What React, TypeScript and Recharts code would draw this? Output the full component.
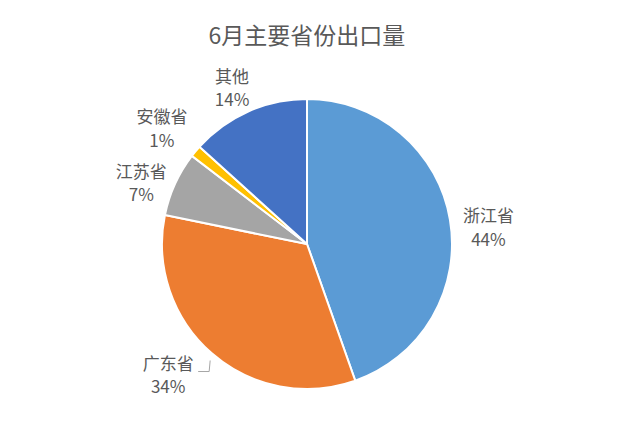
import React from 'react';
import { PieChart, Pie, Cell } from 'recharts';

const provinces = ['浙江省', '广东省', '江苏省', '安徽省', '其他'];
const shares = [44.6, 33.6, 7.2, 1.3, 13.3];
const percentLabels = ['44%', '34%', '7%', '1%', '14%'];
const colors = ['#5B9BD5', '#ED7D31', '#A5A5A5', '#FFC000', '#4472C4'];
const title = '6月主要省份出口量';

const data = provinces.map((name, i) => ({ name, value: shares[i], pct: percentLabels[i] }));

// small per-label nudges (pixels) from the radial position, mimicking best-fit placement
const labelNudges: [number, number][] = [
  [3, 15],
  [-20, -5],
  [-1, 15],
  [-6, 1],
  [-1.5, 10],
];

const RAD = Math.PI / 180;
const FONT = "'Noto Sans CJK SC', 'Noto Sans', sans-serif";

const renderLabel = (props: any) => {
  const { cx, cy, midAngle, outerRadius, index } = props;
  const r = outerRadius + 36;
  const [nx, ny] = labelNudges[index] || [0, 0];
  const x = cx + r * Math.cos(-midAngle * RAD) + nx;
  const y = cy + r * Math.sin(-midAngle * RAD) + ny;
  const d = data[index];
  return (
    <g>
      <text x={x} y={y - 6} textAnchor="middle" fill="#595959" fontSize={17} fontFamily={FONT}>
        <tspan x={x} dy={0}>{d.name}</tspan>
        <tspan x={x} dy={23.5}>{d.pct}</tspan>
      </text>
      {index === 1 && (
        <polyline
          points={`${x + 30},${y - 4} ${x + 41},${y - 4} ${x + 42},${y - 15}`}
          fill="none"
          stroke="#A6A6A6"
          strokeWidth={1}
        />
      )}
    </g>
  );
};

export default function App() {
  return (
    <div style={{ position: 'absolute', left: 0, top: 0, width: 621, height: 423, background: '#fff' }}>
      <PieChart width={621} height={423} margin={{ top: 0, right: 0, bottom: 0, left: 0 }}>
        <text x={307} y={44} textAnchor="middle" fill="#595959" fontSize={23} fontFamily={FONT}>
          {title}
        </text>
        <Pie
          data={data}
          dataKey="value"
          nameKey="name"
          cx={307}
          cy={244}
          outerRadius={145}
          startAngle={90}
          endAngle={-270}
          stroke="#FFFFFF"
          strokeWidth={2}
          label={renderLabel}
          labelLine={false}
          isAnimationActive={false}
        >
          {data.map((d, i) => (
            <Cell key={d.name} fill={colors[i]} />
          ))}
        </Pie>
      </PieChart>
    </div>
  );
}
